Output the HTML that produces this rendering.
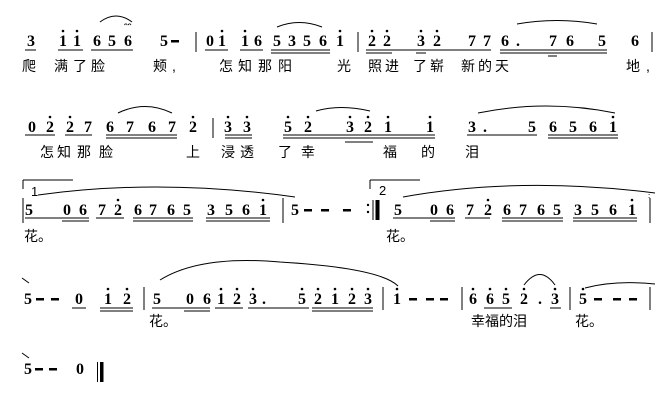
<!DOCTYPE html>
<html><head><meta charset="utf-8"><style>
html,body{margin:0;padding:0;background:#fff;}
svg{display:block}
.n{font-family:"Liberation Serif",serif;font-weight:bold;font-size:16px;text-anchor:middle;fill:#000}
.l{font-family:"Liberation Sans","Noto Sans CJK SC",sans-serif;font-size:14px;text-anchor:middle;fill:#000}
.t{font-family:"Liberation Sans",sans-serif;font-size:13px;fill:#000}
line{stroke:#000;stroke-width:1}
path{fill:none;stroke:#000;stroke-width:1}
</style></head><body>
<svg width="669" height="416" viewBox="0 0 669 416" xmlns="http://www.w3.org/2000/svg">
<g>
<!-- ROW 1 baseline 46 -->
<g class="n">
<text x="31" y="46" class="n">3</text>
<text x="63" y="46" class="n">1</text><text x="77" y="46" class="n">1</text>
<text x="97" y="46" class="n">6</text><text x="112" y="46" class="n">5</text><text x="128" y="46" class="n">6</text>
<text x="164" y="46" class="n">5</text>
<text x="210" y="46" class="n">0</text><text x="222" y="46" class="n">1</text>
<text x="245" y="46" class="n">1</text><text x="258" y="46" class="n">6</text>
<text x="277" y="46" class="n">5</text><text x="292" y="46" class="n">3</text><text x="307" y="46" class="n">5</text><text x="323" y="46" class="n">6</text>
<text x="340" y="46" class="n">1</text>
<text x="372" y="46" class="n">2</text><text x="387" y="46" class="n">2</text>
<text x="421" y="46" class="n">3</text><text x="437" y="46" class="n">2</text>
<text x="472" y="46" class="n">7</text><text x="487" y="46" class="n">7</text>
<text x="505" y="46" class="n">6</text><text x="518" y="46" class="n">.</text>
<text x="553" y="46" class="n">7</text><text x="570" y="46" class="n">6</text>
<text x="602" y="46" class="n">5</text>
<text x="635" y="46" class="n">6</text>
</g>
<rect x="171" y="40" width="8" height="2.5"/>
<g fill="#000">
<circle cx="63" cy="31" r="1.3"/><circle cx="77" cy="31" r="1.3"/><circle cx="222" cy="31" r="1.3"/><circle cx="245" cy="31" r="1.3"/><circle cx="340" cy="31" r="1.3"/>
<circle cx="372" cy="31" r="1.3"/><circle cx="387" cy="31" r="1.3"/><circle cx="421" cy="31" r="1.3"/><circle cx="437" cy="31" r="1.3"/>
</g>
<line x1="196" y1="32" x2="196" y2="52"/><line x1="358" y1="32" x2="358" y2="52"/><line x1="652" y1="32" x2="652" y2="52"/>
<line x1="25" y1="50" x2="36" y2="50"/>
<line x1="58" y1="50" x2="83" y2="50"/>
<line x1="91" y1="50" x2="133" y2="50"/>
<line x1="205" y1="50" x2="228" y2="50"/>
<line x1="240" y1="50" x2="263" y2="50"/>
<line x1="271" y1="50" x2="330" y2="50"/><line x1="271" y1="53" x2="330" y2="53"/>
<line x1="366" y1="50" x2="491" y2="50"/><line x1="366" y1="53" x2="392" y2="53"/><line x1="416" y1="53" x2="426" y2="53"/>
<line x1="500" y1="50" x2="607" y2="50"/><line x1="500" y1="53" x2="607" y2="53"/><line x1="548" y1="56" x2="557" y2="56"/>
<path d="M100 22 Q116 10 132 22"/>
<text x="124" y="29" style="font-size:9px;font-family:'Liberation Sans',sans-serif;font-weight:bold">ᵔᵔ</text>
<path d="M277 27 Q299 18 322 27"/>
<path d="M517 24 Q557 17 597 24"/>
<g class="l">
<text x="29" y="71">爬</text><text x="61" y="71">满</text><text x="80" y="71">了</text><text x="98" y="71">脸</text>
<text x="160" y="71">颊</text><text x="174" y="71">,</text>
<text x="226" y="71">怎</text><text x="245" y="71">知</text><text x="265" y="71">那</text><text x="285" y="71">阳</text>
<text x="344" y="71">光</text><text x="375" y="71">照</text><text x="392" y="71">进</text><text x="420" y="71">了</text><text x="437" y="71">崭</text>
<text x="468" y="71">新</text><text x="485" y="71">的</text><text x="502" y="71">天</text><text x="633" y="71">地</text><text x="648" y="71">,</text>
</g>

<!-- ROW 2 baseline 132 -->
<g class="n">
<text x="32" y="132">0</text><text x="50" y="132">2</text><text x="70" y="132">2</text><text x="88" y="132">7</text>
<text x="110" y="132">6</text><text x="130" y="132">7</text><text x="152" y="132">6</text><text x="172" y="132">7</text>
<text x="193" y="132">2</text>
<text x="228" y="132">3</text><text x="247" y="132">3</text>
<text x="288" y="132">5</text><text x="308" y="132">2</text>
<text x="350" y="132">3</text><text x="368" y="132">2</text><text x="388" y="132">1</text><text x="430" y="132">1</text>
<text x="472" y="132">3</text><text x="485" y="132">.</text>
<text x="532" y="132">5</text><text x="553" y="132">6</text><text x="573" y="132">5</text><text x="593" y="132">6</text><text x="613" y="132">1</text>
</g>
<g fill="#000">
<circle cx="50" cy="117" r="1.3"/><circle cx="70" cy="117" r="1.3"/><circle cx="193" cy="117" r="1.3"/><circle cx="228" cy="117" r="1.3"/><circle cx="247" cy="117" r="1.3"/>
<circle cx="288" cy="117" r="1.3"/><circle cx="308" cy="117" r="1.3"/><circle cx="350" cy="117" r="1.3"/><circle cx="368" cy="117" r="1.3"/><circle cx="388" cy="117" r="1.3"/><circle cx="430" cy="117" r="1.3"/><circle cx="613" cy="117" r="1.3"/>
</g>
<line x1="213" y1="118" x2="213" y2="138"/>
<line x1="25" y1="135" x2="55" y2="135"/>
<line x1="65" y1="135" x2="92" y2="135"/>
<line x1="106" y1="135" x2="177" y2="135"/><line x1="106" y1="138" x2="177" y2="138"/>
<line x1="225" y1="135" x2="252" y2="135"/><line x1="225" y1="138" x2="252" y2="138"/>
<line x1="283" y1="135" x2="435" y2="135"/><line x1="283" y1="138" x2="435" y2="138"/><line x1="345" y1="142" x2="373" y2="142"/>
<line x1="467" y1="135" x2="537" y2="135"/>
<line x1="548" y1="135" x2="618" y2="135"/><line x1="548" y1="138" x2="618" y2="138"/>
<path d="M118 113 Q145 100 172 113"/>
<path d="M316 111 Q340 104 370 111"/>
<path d="M478 113 Q546 99 615 113"/>
<g class="l">
<text x="47" y="157">怎</text><text x="64" y="157">知</text><text x="84" y="157">那</text><text x="106" y="157">脸</text>
<text x="193" y="157">上</text><text x="228" y="157">浸</text><text x="247" y="157">透</text><text x="285" y="157">了</text><text x="308" y="157">幸</text>
<text x="390" y="157">福</text><text x="428" y="157">的</text><text x="472" y="157">泪</text>
</g>

<!-- ROW 3 baseline 215 -->
<line x1="23" y1="180" x2="73" y2="180"/><line x1="23" y1="180" x2="23" y2="189"/>
<text x="31" y="196" class="t">1</text>
<line x1="370" y1="180" x2="420" y2="180"/><line x1="370" y1="180" x2="370" y2="189"/>
<text x="379" y="195" class="t">2</text>
<path d="M38 195 Q160 178 295 197"/>
<path d="M403 197 Q520 176 655 193"/>
<text x="648" y="198" style="font-size:8px">:</text>
<g class="n">
<text x="29" y="215">5</text><text x="67" y="215">0</text><text x="83" y="215">6</text><text x="102" y="215">7</text><text x="118" y="215">2</text>
<text x="138" y="215">6</text><text x="153" y="215">7</text><text x="171" y="215">6</text><text x="187" y="215">5</text>
<text x="211" y="215">3</text><text x="229" y="215">5</text><text x="246" y="215">6</text><text x="263" y="215">1</text>
<text x="295" y="215">5</text>
<text x="398" y="215">5</text><text x="434" y="215">0</text><text x="450" y="215">6</text><text x="470" y="215">7</text><text x="488" y="215">2</text>
<text x="507" y="215">6</text><text x="523" y="215">7</text><text x="541" y="215">6</text><text x="557" y="215">5</text>
<text x="578" y="215">3</text><text x="595" y="215">5</text><text x="613" y="215">6</text><text x="632" y="215">1</text>
</g>
<g fill="#000">
<circle cx="118" cy="200" r="1.3"/><circle cx="263" cy="200" r="1.3"/><circle cx="488" cy="200" r="1.3"/><circle cx="632" cy="200" r="1.3"/>
<rect x="304" y="209" width="8" height="2.5"/><rect x="321" y="209" width="8" height="2.5"/><rect x="343" y="209" width="8" height="2.5"/>
<circle cx="368" cy="205" r="1.2"/><circle cx="368" cy="212" r="1.2"/>
<rect x="375.5" y="200" width="4" height="20"/>
</g>
<line x1="23" y1="198" x2="23" y2="223"/><line x1="283" y1="198" x2="283" y2="223"/><line x1="373" y1="200" x2="373" y2="220"/><line x1="650" y1="198" x2="650" y2="223"/>
<line x1="25" y1="218" x2="89" y2="218"/><line x1="62" y1="221" x2="89" y2="221"/>
<line x1="96" y1="218" x2="124" y2="218"/>
<line x1="133" y1="218" x2="193" y2="218"/><line x1="133" y1="221" x2="193" y2="221"/>
<line x1="206" y1="218" x2="270" y2="218"/><line x1="206" y1="221" x2="270" y2="221"/>
<line x1="393" y1="218" x2="455" y2="218"/><line x1="430" y1="221" x2="455" y2="221"/>
<line x1="465" y1="218" x2="490" y2="218"/>
<line x1="502" y1="218" x2="563" y2="218"/><line x1="502" y1="221" x2="563" y2="221"/>
<line x1="573" y1="218" x2="637" y2="218"/><line x1="573" y1="221" x2="637" y2="221"/>
<g class="l"><text x="38" y="241">花。</text><text x="400" y="241">花。</text></g>

<!-- ROW 4 baseline 304 -->
<line x1="22" y1="278" x2="29" y2="283"/>
<g class="n">
<text x="28" y="304">5</text><text x="79" y="304">0</text><text x="108" y="304">1</text><text x="127" y="304">2</text>
<text x="157" y="304">5</text><text x="190" y="304">0</text><text x="207" y="304">6</text><text x="221" y="304">1</text><text x="237" y="304">2</text><text x="253" y="304">3</text><text x="264" y="304">.</text>
<text x="302" y="304">5</text><text x="318" y="304">2</text><text x="335" y="304">1</text><text x="352" y="304">2</text><text x="368" y="304">3</text>
<text x="397" y="304">1</text>
<text x="473" y="304">6</text><text x="490" y="304">6</text><text x="506" y="304">5</text><text x="524" y="304">2</text><text x="540" y="304">.</text><text x="555" y="304">3</text>
<text x="583" y="304">5</text>
</g>
<g fill="#000">
<rect x="36" y="298" width="8" height="2.5"/><rect x="51" y="298" width="8" height="2.5"/>
<rect x="409" y="298" width="8" height="2.5"/><rect x="426" y="298" width="8" height="2.5"/><rect x="440" y="298" width="8" height="2.5"/>
<rect x="594" y="298" width="8" height="2.5"/><rect x="613" y="298" width="8" height="2.5"/><rect x="629" y="298" width="8" height="2.5"/>
<circle cx="108" cy="289" r="1.3"/><circle cx="127" cy="289" r="1.3"/><circle cx="221" cy="289" r="1.3"/><circle cx="237" cy="289" r="1.3"/><circle cx="253" cy="289" r="1.3"/>
<circle cx="302" cy="289" r="1.3"/><circle cx="318" cy="289" r="1.3"/><circle cx="335" cy="289" r="1.3"/><circle cx="352" cy="289" r="1.3"/><circle cx="368" cy="289" r="1.3"/><circle cx="397" cy="289" r="1.3"/>
<circle cx="473" cy="289" r="1.3"/><circle cx="490" cy="289" r="1.3"/><circle cx="506" cy="289" r="1.3"/><circle cx="524" cy="289" r="1.3"/><circle cx="555" cy="289" r="1.3"/><circle cx="583" cy="289" r="1.3"/>
</g>
<line x1="144" y1="287" x2="144" y2="310"/><line x1="383" y1="287" x2="383" y2="310"/><line x1="462" y1="287" x2="462" y2="310"/><line x1="570" y1="287" x2="570" y2="310"/><line x1="650" y1="287" x2="650" y2="310"/>
<line x1="72" y1="308" x2="86" y2="308"/>
<line x1="100" y1="308" x2="133" y2="308"/><line x1="100" y1="311" x2="133" y2="311"/>
<line x1="152" y1="308" x2="210" y2="308"/><line x1="184" y1="311" x2="210" y2="311"/>
<line x1="215" y1="308" x2="243" y2="308"/>
<line x1="248" y1="308" x2="309" y2="308"/>
<line x1="312" y1="308" x2="373" y2="308"/><line x1="312" y1="311" x2="373" y2="311"/>
<line x1="484" y1="308" x2="512" y2="308"/>
<line x1="550" y1="308" x2="561" y2="308"/>
<path d="M160 280 Q200 255 280 262 Q380 268 398 286"/>
<path d="M524 285 Q540 264 555 285"/>
<path d="M585 288 Q615 280 655 284"/>
<g class="l"><text x="163" y="326">花。</text><text x="499" y="326">幸福的泪</text><text x="589" y="326">花。</text></g>

<!-- ROW 5 -->
<line x1="22" y1="353" x2="29" y2="358"/>
<g class="n"><text x="28" y="374">5</text><text x="80" y="374">0</text></g>
<rect x="35" y="368" width="8" height="2.5"/><rect x="49" y="368" width="8" height="2.5"/>
<line x1="97.5" y1="362" x2="97.5" y2="382"/><rect x="100" y="362" width="3.5" height="20"/>
</g>
</svg>
</body></html>
